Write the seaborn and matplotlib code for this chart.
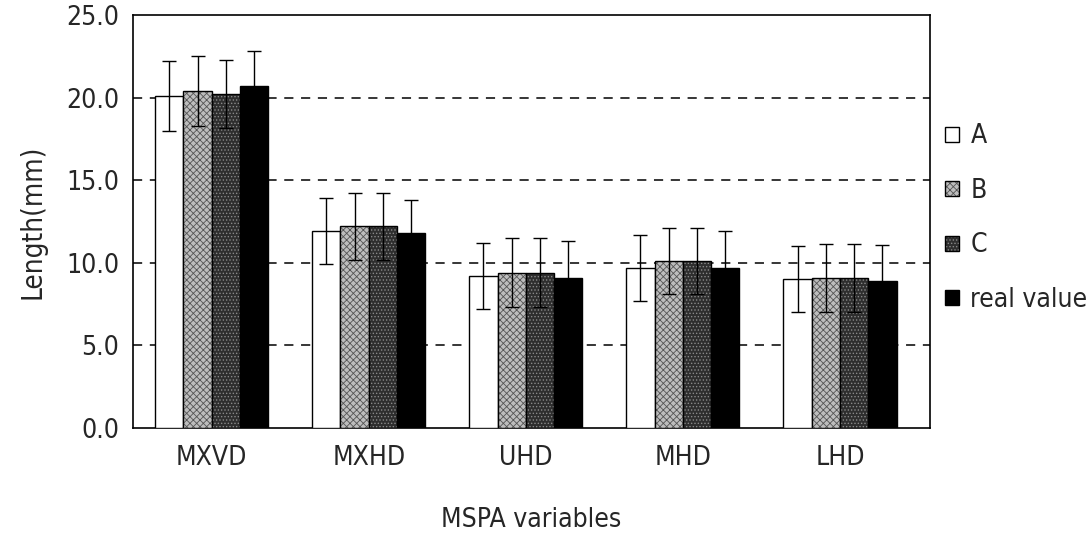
import matplotlib
matplotlib.use('Agg')
import matplotlib.pyplot as plt
import seaborn as sns
import pandas as pd
from matplotlib.ticker import FixedLocator

categories = ['MXVD', 'MXHD', 'UHD', 'MHD', 'LHD']
groups = ['A', 'B', 'C', 'real value']
vals_A = [20.1, 11.9, 9.2, 9.7, 9.0]
vals_B = [20.4, 12.2, 9.4, 10.1, 9.1]
vals_C = [20.2, 12.2, 9.4, 10.1, 9.1]
vals_real = [20.7, 11.8, 9.1, 9.7, 8.9]
sd_A = [2.1, 2.0, 2.0, 2.0, 2.0]
sd_B = [2.1, 2.0, 2.1, 2.0, 2.05]
sd_C = [2.05, 2.0, 2.1, 2.0, 2.05]
sd_real = [2.1, 2.0, 2.2, 2.2, 2.2]


def build_frame():
    rows = []
    for g, v, s in zip(groups, [vals_A, vals_B, vals_C, vals_real],
                       [sd_A, sd_B, sd_C, sd_real]):
        for c, vi, si in zip(categories, v, s):
            rows.append({'var': c, 'group': g, 'value': vi, 'sd': si})
    return pd.DataFrame(rows)


def plot_bars(df):
    sns.set_style('white')
    plt.rcParams['font.family'] = ['DejaVu Sans Condensed', 'DejaVu Sans']
    plt.rcParams['font.stretch'] = 'condensed'
    plt.rcParams['hatch.linewidth'] = 0.6
    fig = plt.figure(figsize=(10.91, 5.37), dpi=100)
    ax = fig.add_axes([0.122, 0.203, 0.73, 0.769])

    palette = {'A': 'white', 'B': '#bdbdbd', 'C': '#2e2e2e', 'real value': 'black'}
    sns.barplot(x='var', y='value', hue='group', data=df, order=categories,
                hue_order=groups, palette=palette, width=0.72, errorbar=None,
                edgecolor='black', linewidth=1.0, saturation=1, ax=ax, zorder=3)

    hatches = {'A': '', 'B': 'xxxxx', 'C': '.....', 'real value': ''}
    hatch_col = {'A': 'black', 'B': '#555555', 'C': '#8a8a8a', 'real value': 'black'}
    for cont, g in zip(ax.containers, groups):
        sub = df[df.group == g].set_index('var').loc[categories]
        xs = [p.get_x() + p.get_width() / 2 for p in cont.patches]
        for p in cont.patches:
            p.set_hatch(hatches[g])
            p._hatch_color = matplotlib.colors.to_rgba(hatch_col[g])
        ax.errorbar(xs, sub['value'], yerr=sub['sd'], fmt='none', ecolor='black',
                    elinewidth=1.0, capsize=5, capthick=1.0, zorder=4)

    ax.set_ylim(0, 25)
    ax.set_xlim(-0.5, 4.57)
    ax.set_yticks([0, 5, 10, 15, 20, 25])
    ax.set_yticklabels(['0.0', '5.0', '10.0', '15.0', '20.0', '25.0'], fontsize=19)
    for y in [5, 10, 15, 20]:
        ax.axhline(y, color='black', linestyle=(0, (6, 5)), linewidth=1.1, zorder=1)
    ax.set_xticks(range(len(categories)))
    ax.set_xticklabels(categories, fontsize=19)
    ax.xaxis.set_minor_locator(FixedLocator([0.5, 1.5, 2.5, 3.5]))
    ax.tick_params(axis='x', which='major', length=0, pad=12)
    ax.tick_params(axis='x', which='minor', length=7, direction='in', width=1)
    ax.tick_params(axis='y', which='major', length=5, direction='in', width=1, pad=10)

    for s in ax.spines.values():
        s.set_color('black')
        s.set_linewidth(1.2)

    ax.set_xlabel('MSPA variables', fontsize=19, labelpad=26)
    ax.set_ylabel('Length(mm)', fontsize=20, labelpad=14)

    leg = ax.legend(loc='center left', bbox_to_anchor=(0.99, 0.508), frameon=False,
                    fontsize=19, handlelength=0.5, handleheight=0.5,
                    handletextpad=0.45, labelspacing=1.08)
    for h, g in zip(leg.legend_handles, groups):
        h.set_hatch(hatches[g])
        h.set_edgecolor('black')
        h.set_linewidth(1.0)
        h._hatch_color = matplotlib.colors.to_rgba(hatch_col[g])
    plt.savefig('out.png', dpi=100)


if __name__ == '__main__':
    df = build_frame()
    plot_bars(df)
